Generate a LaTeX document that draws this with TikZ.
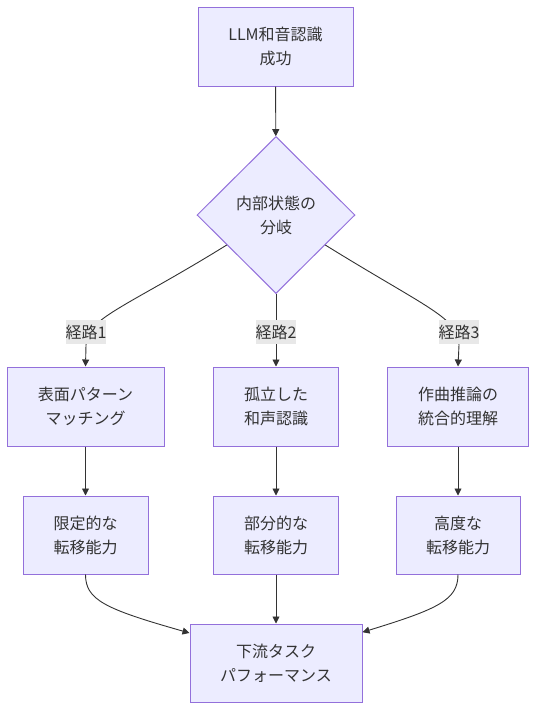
\documentclass[tikz,border=0pt]{standalone}
\usepackage{fontspec}
\setmainfont{Noto Sans CJK JP}
\usetikzlibrary{shapes.geometric,arrows.meta,calc}
\definecolor{nodefill}{HTML}{ECECFF}
\definecolor{nodeline}{HTML}{9370DB}
\definecolor{edgecol}{HTML}{333333}
\definecolor{labelbg}{HTML}{E8E8E8}
\begin{document}
\begin{tikzpicture}[x=1pt,y=-1pt,
 box/.style={draw=nodeline,fill=nodefill,line width=1pt,inner sep=0pt,align=center,text=edgecol,font=\fontsize{16}{24}\selectfont},
 decision/.style={box,shape=diamond,minimum width=158pt,minimum height=157pt},
 flow/.style={draw=edgecol,line width=0.9pt,-{Triangle[length=7pt,width=7pt]}},
 elabel/.style={fill=labelbg,inner sep=0pt,minimum height=24pt,text=edgecol,font=\fontsize{16}{24}\selectfont}]
\useasboundingbox (0,0) rectangle (536,710);
\node[box,minimum width=155pt,minimum height=79pt] (top) at (275.5,46.5) {LLM和音認識\\成功};
\node[decision] (dec) at (276,215) {内部状態の\\分岐};
\node[box,minimum width=157pt,minimum height=79pt] (p1) at (85.5,406.5) {表面パターン\\マッチング};
\node[box,minimum width=125pt,minimum height=79pt] (p2) at (276,406.5) {孤立した\\和声認識};
\node[box,minimum width=141pt,minimum height=79pt] (p3) at (458,406.5) {作曲推論の\\統合的理解};
\node[box,minimum width=125pt,minimum height=78pt] (t1) at (85.5,535) {限定的な\\転移能力};
\node[box,minimum width=125pt,minimum height=78pt] (t2) at (276,535) {部分的な\\転移能力};
\node[box,minimum width=124pt,minimum height=78pt] (t3) at (458,535) {高度な\\転移能力};
\node[box,minimum width=172pt,minimum height=78pt] (down) at (276,663) {下流タスク\\パフォーマンス};
\coordinate (s1) at ($(dec.west)!0.38!(dec.south)$);
\coordinate (s3) at ($(dec.east)!0.38!(dec.south)$);
\coordinate (e1) at ($(down.north west)!0.12!(down.south west)$);
\coordinate (e3) at ($(down.north east)!0.11!(down.south east)$);
\draw[flow] (top) -- (dec);
\draw[flow] (s1) .. controls (125,308) and (86,318) .. (86,345) -- (p1.north);
\draw[flow] (dec.south) -- (p2.north);
\draw[flow] (s3) .. controls (427,308) and (459,318) .. (459,345) -- (p3.north);
\draw[flow] (p1) -- (t1);
\draw[flow] (p2) -- (t2);
\draw[flow] (p3) -- (t3);
\draw[flow] (t1.south) .. controls (85.5,600) and (105,609) .. (e1);
\draw[flow] (t2) -- (down);
\draw[flow] (t3.south) .. controls (458,600) and (438,609) .. (e3);
\node[elabel] (l1) at (86,332) {経路1};
\node[elabel] (l2) at (276,332) {経路2};
\node[elabel] (l3) at (459,332) {経路3};
\end{tikzpicture}
\end{document}
